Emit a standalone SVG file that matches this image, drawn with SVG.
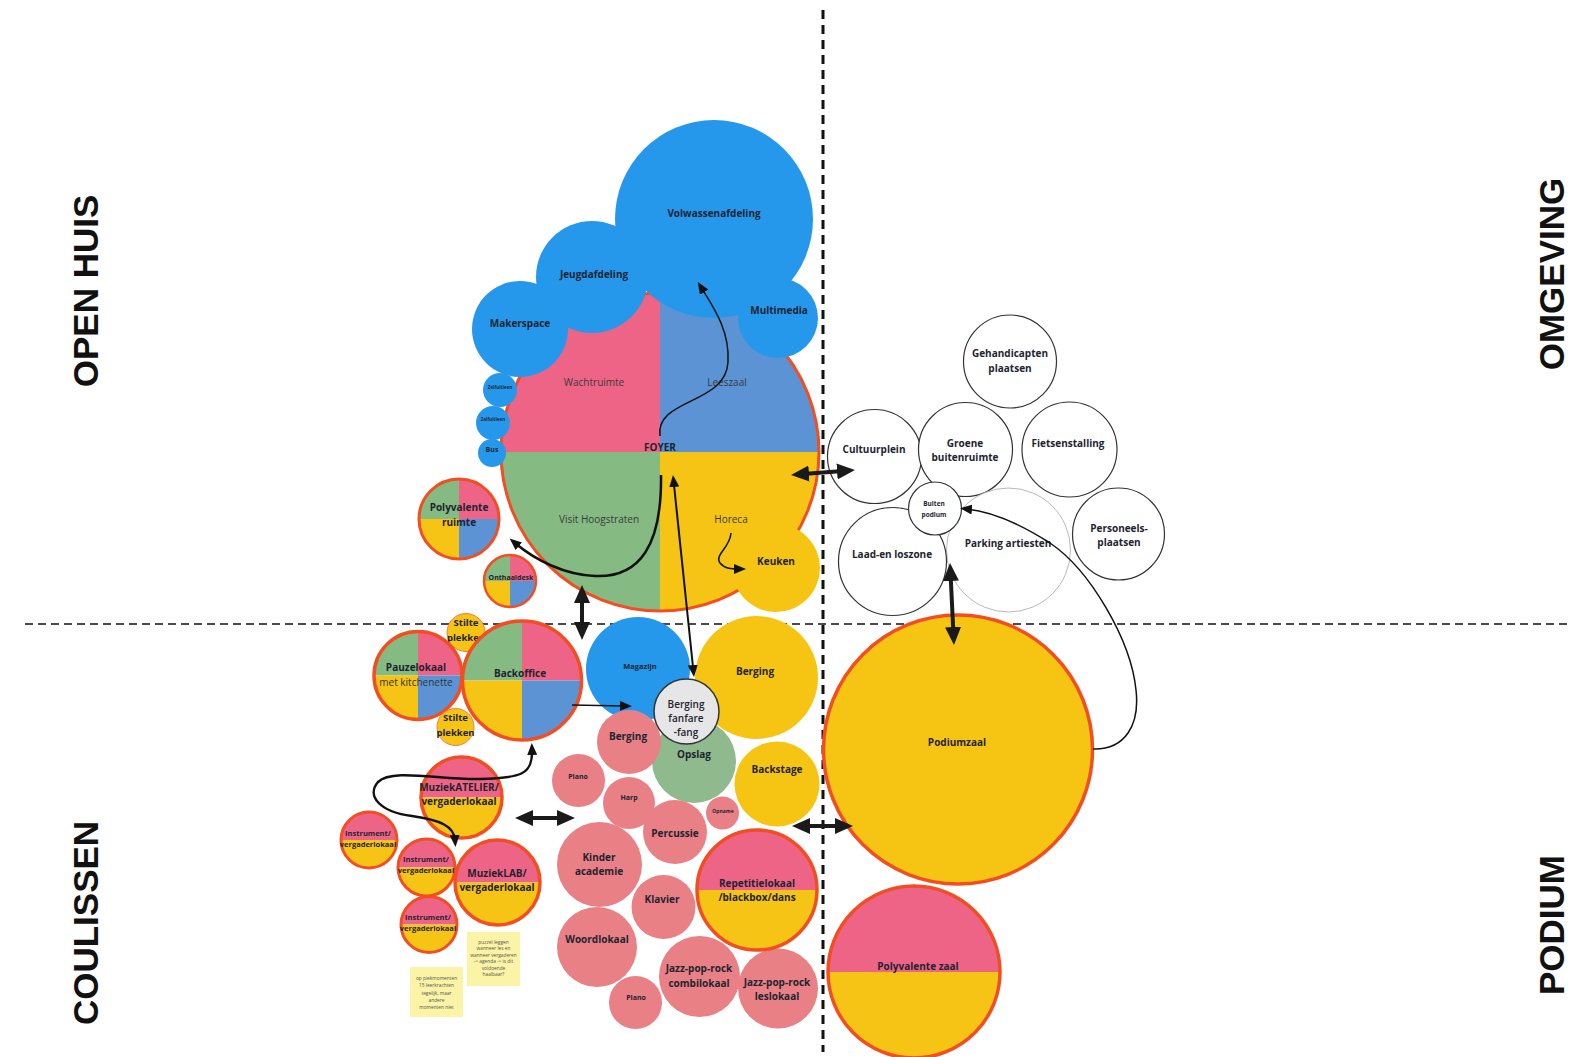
<svg xmlns="http://www.w3.org/2000/svg" width="1579" height="1057" viewBox="0 0 1579 1057">
<defs>
<style>
text{font-family:"Open Sans","Noto Sans",sans-serif;text-anchor:middle;fill:#1d2430}
.b{font-weight:700;font-size:10px}
.n{font-weight:400;font-size:10px;fill:#3a3a3a}
.s7{font-weight:700;font-size:7px}
.s75{font-weight:700;font-size:7.5px}
.side{font-family:"Liberation Sans",Arial,sans-serif;font-weight:700;font-size:35px;fill:#111}
.note{font-size:4.8px;fill:#555}
.pk{fill:#ee6487}.bl{fill:#5b93d5}.gr{fill:#85ba83}.ye{fill:#f5c415}
.ring{fill:none;stroke:#f24e22;stroke-width:3}
.blue{fill:#2598eb}
.rose{fill:#e88086}
.yel{fill:#f6c513}
.wc{fill:#fff;stroke:#333;stroke-width:1.2}
.sticky{fill:#fbf3a5}
.thin{fill:none;stroke:#111;stroke-width:1.5}
.med{fill:none;stroke:#111;stroke-width:2.5}
.bold{fill:none;stroke:#1a1a1a;stroke-width:4}
</style>
<marker id="ah" viewBox="0 0 12 10" refX="5" refY="5" markerWidth="12" markerHeight="10" markerUnits="userSpaceOnUse" orient="auto-start-reverse"><path d="M0,0 L12,5 L0,10 z" fill="#111"/></marker>
<marker id="ahb" viewBox="0 0 18 16" refX="6" refY="8" markerWidth="18" markerHeight="16" markerUnits="userSpaceOnUse" orient="auto-start-reverse"><path d="M0,0 L18,8 L0,16 z" fill="#1a1a1a"/></marker>
</defs>
<rect width="1579" height="1057" fill="#fff"/>

<g id="grid">
<line x1="823" y1="10" x2="823" y2="1052" stroke="#111" stroke-width="3" stroke-dasharray="9 6"/>
<line x1="25" y1="624" x2="1572" y2="624" stroke="#111" stroke-width="1.5" stroke-dasharray="8 5"/>
</g>

<g id="labels">
<text class="side" transform="translate(98,291) rotate(-90)">OPEN HUIS</text>
<text class="side" transform="translate(98,923) rotate(-90)">COULISSEN</text>
<text class="side" transform="translate(1564,274) rotate(-90)">OMGEVING</text>
<text class="side" transform="translate(1564,925) rotate(-90)">PODIUM</text>
</g>

<g id="foyer">
<path class="pk" d="M660,452 L501,452 A159,159 0 0 1 660,293 Z"/>
<path class="bl" d="M660,452 L660,293 A159,159 0 0 1 819,452 Z"/>
<path class="gr" d="M660,452 L660,611 A159,159 0 0 1 501,452 Z"/>
<path class="ye" d="M660,452 L819,452 A159,159 0 0 1 660,611 Z"/>
<circle class="ring" cx="660" cy="452" r="159"/>
<text class="n" x="594" y="385.5">Wachtruimte</text>
<text class="n" x="727" y="385.5">Leeszaal</text>
<text class="b" x="660" y="450.5">FOYER</text>
<text class="n" x="599" y="522.5">Visit Hoogstraten</text>
<text class="n" x="731" y="522.5">Horeca</text>
</g>
<g id="volwassenafdeling"><circle class="blue" cx="714" cy="219" r="99"/><text class="b" x="714" y="216.5">Volwassenafdeling</text></g>
<g id="jeugdafdeling"><circle class="blue" cx="592" cy="277" r="56"/><text class="b" x="594" y="277.5">Jeugdafdeling</text></g>
<g id="makerspace"><circle class="blue" cx="520" cy="329" r="48"/><text class="b" x="520" y="326.5">Makerspace</text></g>
<g id="multimedia"><circle class="blue" cx="778" cy="318" r="40"/><text class="b" x="779" y="313.5">Multimedia</text></g>
<g id="zelfuitleen1"><circle class="blue" cx="500" cy="390" r="17"/><text class="b" style="font-size:4.5px" x="500" y="388.5">Zelfuitleen</text></g>
<g id="zelfuitleen2"><circle class="blue" cx="493" cy="423" r="17"/><text class="b" style="font-size:4.5px" x="493" y="420.5">Zelfuitleen</text></g>
<g id="bus"><circle class="blue" cx="492" cy="453" r="14"/><text class="s7" x="492" y="451.5">Bus</text></g>
<g id="keuken"><circle class="yel" cx="776" cy="568" r="44"/><text class="b" x="776" y="564.5">Keuken</text></g>

<g id="polyvalente-ruimte">
<path class="gr" d="M459,519 L419,519 A40,40 0 0 1 459,479 Z"/>
<path class="pk" d="M459,519 L459,479 A40,40 0 0 1 499,519 Z"/>
<path class="bl" d="M459,519 L499,519 A40,40 0 0 1 459,559 Z"/>
<path class="ye" d="M459,519 L459,559 A40,40 0 0 1 419,519 Z"/>
<circle class="ring" cx="459" cy="519" r="40"/>
<text class="b" x="459" y="510.5">Polyvalente</text><text class="b" x="459" y="525.5">ruimte</text>
</g>
<g id="onthaaldesk">
<path class="gr" d="M510,581 L484,581 A26,26 0 0 1 510,555 Z"/>
<path class="pk" d="M510,581 L510,555 A26,26 0 0 1 536,581 Z"/>
<path class="bl" d="M510,581 L536,581 A26,26 0 0 1 510,607 Z"/>
<path class="ye" d="M510,581 L510,607 A26,26 0 0 1 484,581 Z"/>
<circle class="ring" cx="510" cy="581" r="26" style="stroke-width:2.5"/>
<text class="s7" x="511" y="579.5">Onthaaldesk</text>
</g>
<g id="stilte1"><circle class="yel" cx="466" cy="632.5" r="19" stroke="#f07a4a" stroke-width="1"/><text class="b" style="font-size:9.5px" x="466" y="626">Stilte</text><text class="b" style="font-size:9.5px" x="466" y="641">plekken</text></g>
<g id="pauzelokaal">
<path class="gr" d="M418,675.5 L374,675.5 A44,44 0 0 1 418,631.5 Z"/>
<path class="pk" d="M418,675.5 L418,631.5 A44,44 0 0 1 462,675.5 Z"/>
<path class="bl" d="M418,675.5 L462,675.5 A44,44 0 0 1 418,719.5 Z"/>
<path class="ye" d="M418,675.5 L418,719.5 A44,44 0 0 1 374,675.5 Z"/>
<circle class="ring" cx="418" cy="675.5" r="44" style="stroke-width:3.5"/>
<text class="b" x="416" y="670.5">Pauzelokaal</text><text class="n" style="fill:#333" x="416" y="685.5">met kitchenette</text>
</g>
<g id="stilte2"><circle class="yel" cx="455.5" cy="727" r="18.5" stroke="#f07a4a" stroke-width="1"/><text class="b" style="font-size:9.5px" x="455.5" y="721">Stilte</text><text class="b" style="font-size:9.5px" x="455.5" y="736">plekken</text></g>
<g id="backoffice">
<path class="gr" d="M522,680.5 L462.5,680.5 A59.5,59.5 0 0 1 522,621 Z"/>
<path class="pk" d="M522,680.5 L522,621 A59.5,59.5 0 0 1 581.5,680.5 Z"/>
<path class="bl" d="M522,680.5 L581.5,680.5 A59.5,59.5 0 0 1 522,740 Z"/>
<path class="ye" d="M522,680.5 L522,740 A59.5,59.5 0 0 1 462.5,680.5 Z"/>
<circle class="ring" cx="522" cy="680.5" r="59.5" style="stroke-width:3.5"/>
<text class="b" x="520" y="676.5">Backoffice</text>
</g>

<g id="magazijn"><circle class="blue" cx="638" cy="669" r="52"/><text class="s75" x="640" y="668.5">Magazijn</text></g>
<g id="berging-geel"><circle class="yel" cx="756.5" cy="677.5" r="61.5"/><text class="b" x="755" y="674.5">Berging</text></g>
<g id="opslag"><circle cx="694" cy="761" r="42" fill="#8fba8e"/><text class="b" x="694" y="757.5">Opslag</text></g>
<g id="berging-roze"><circle class="rose" cx="629" cy="742" r="32"/><text class="b" x="628" y="739.5">Berging</text></g>
<g id="berging-fanfare"><circle cx="686.5" cy="711.5" r="32.5" fill="#e6e6e6" stroke="#333" stroke-width="1.5"/>
<text class="b" style="font-weight:600" x="686" y="707.5">Berging</text><text class="b" style="font-weight:600" x="686" y="721.5">fanfare</text><text class="b" style="font-weight:600" x="686" y="735.5">-fang</text></g>
<g id="backstage"><circle class="yel" cx="777" cy="784" r="42.5"/><text class="b" x="777" y="772.5">Backstage</text></g>
<g id="piano1"><circle class="rose" cx="578.5" cy="780.5" r="26.5"/><text class="s7" x="578" y="778.5">Piano</text></g>
<g id="harp"><circle class="rose" cx="629" cy="803" r="26"/><text class="s7" x="629" y="799.5">Harp</text></g>
<g id="opname"><circle class="rose" cx="722.5" cy="813" r="16.5"/><text class="b" style="font-size:5px" x="723" y="813">Opname</text></g>
<g id="percussie"><circle class="rose" cx="675" cy="832" r="32"/><text class="b" x="675" y="836.5">Percussie</text></g>
<g id="kinderacademie"><circle class="rose" cx="599.5" cy="864.5" r="42.5"/><text class="b" x="599" y="860.5">Kinder</text><text class="b" x="599" y="874.5">academie</text></g>
<g id="klavier"><circle class="rose" cx="663.5" cy="907" r="32"/><text class="b" x="662" y="902.5">Klavier</text></g>
<g id="woordlokaal"><circle class="rose" cx="597" cy="947" r="40"/><text class="b" x="597" y="942.5">Woordlokaal</text></g>
<g id="piano2"><circle class="rose" cx="635.5" cy="1002.5" r="26.5"/><text class="s7" x="636" y="999.5">Piano</text></g>
<g id="jazz-combi"><circle class="rose" cx="699.5" cy="976.5" r="40.5"/><text class="b" x="699" y="971.5">Jazz-pop-rock</text><text class="b" x="699" y="986.5">combilokaal</text></g>
<g id="jazz-les"><circle class="rose" cx="778" cy="988.5" r="40"/><text class="b" x="777" y="985.5">Jazz-pop-rock</text><text class="b" x="777" y="999.5">leslokaal</text></g>
<g id="repetitielokaal">
<path class="pk" d="M697,890 A60,60 0 0 1 817,890 Z"/><path class="ye" d="M817,890 A60,60 0 0 1 697,890 Z"/>
<circle class="ring" cx="757" cy="890" r="60" style="stroke-width:3.5"/>
<text class="b" x="757" y="886.5">Repetitielokaal</text><text class="b" x="757" y="900.5">/blackbox/dans</text>
</g>

<g id="muziekatelier">
<path class="pk" d="M421,797.5 A40.5,40.5 0 0 1 502,797.5 Z"/><path class="ye" d="M502,797.5 A40.5,40.5 0 0 1 421,797.5 Z"/>
<circle class="ring" cx="461.5" cy="797.5" r="40.5" style="stroke-width:3.5"/>
<text class="b" x="459" y="790.5">MuziekATELIER/</text><text class="b" x="459" y="804.5">vergaderlokaal</text>
</g>
<g id="instrument1">
<path class="pk" d="M341,840 A28,28 0 0 1 397,840 Z"/><path class="ye" d="M397,840 A28,28 0 0 1 341,840 Z"/>
<circle class="ring" cx="369" cy="840" r="28"/>
<text class="s75" x="368" y="835.5">Instrument/</text><text class="s75" x="368" y="846.5">vergaderlokaal</text>
</g>
<g id="instrument2">
<path class="pk" d="M398,867.5 A28.5,28.5 0 0 1 455,867.5 Z"/><path class="ye" d="M455,867.5 A28.5,28.5 0 0 1 398,867.5 Z"/>
<circle class="ring" cx="426.5" cy="867.5" r="28.5"/>
<text class="s75" x="426" y="861.5">Instrument/</text><text class="s75" x="426" y="872.5">vergaderlokaal</text>
</g>
<g id="instrument3">
<path class="pk" d="M401,924.5 A28,28 0 0 1 457,924.5 Z"/><path class="ye" d="M457,924.5 A28,28 0 0 1 401,924.5 Z"/>
<circle class="ring" cx="429" cy="924.5" r="28"/>
<text class="s75" x="428" y="919.5">Instrument/</text><text class="s75" x="428" y="930.5">vergaderlokaal</text>
</g>
<g id="muzieklab">
<path class="pk" d="M455,882.5 A42.5,42.5 0 0 1 540,882.5 Z"/><path class="ye" d="M540,882.5 A42.5,42.5 0 0 1 455,882.5 Z"/>
<circle class="ring" cx="497.5" cy="882.5" r="42.5" style="stroke-width:3.5"/>
<text class="b" x="497" y="876.5">MuziekLAB/</text><text class="b" x="497" y="890.5">vergaderlokaal</text>
</g>

<g id="note-puzzel"><rect class="sticky" x="467" y="932" width="53" height="54"/>
<text class="note" x="493.5" y="943.5">puzzel leggen</text><text class="note" x="493.5" y="950">wanneer les en</text><text class="note" x="493.5" y="956.5">wanneer vergaderen</text><text class="note" x="493.5" y="963">-&gt; agenda -&gt; is dit</text><text class="note" x="493.5" y="969.5">voldoende</text><text class="note" x="493.5" y="976">haalbaar?</text></g>
<g id="note-piek"><rect class="sticky" x="410" y="967" width="53" height="50"/>
<text class="note" x="436.5" y="979.5">op piekmomenten</text><text class="note" x="436.5" y="987">15 leerkrachten</text><text class="note" x="436.5" y="994.5">tegelijk, maar</text><text class="note" x="436.5" y="1001.5">andere</text><text class="note" x="436.5" y="1008.5">momenten niet</text></g>

<g id="podiumzaal"><circle cx="958" cy="749.5" r="134.5" fill="#f6c513" stroke="#f24e22" stroke-width="3.5"/><text class="b" x="957" y="745.5">Podiumzaal</text></g>
<g id="polyvalente-zaal">
<path class="pk" d="M828,972 A86,86 0 0 1 1000,972 Z"/><path class="ye" d="M1000,972 A86,86 0 0 1 828,972 Z"/>
<circle class="ring" cx="914" cy="972" r="86" style="stroke-width:3.5"/>
<text class="b" x="918" y="969.5">Polyvalente zaal</text>
</g>

<g id="gehandicapten"><circle class="wc" cx="1010" cy="361.5" r="46.5"/><text class="b" x="1010" y="356.5">Gehandicapten</text><text class="b" x="1010" y="371.5">plaatsen</text></g>
<g id="cultuurplein"><circle class="wc" cx="874.5" cy="456.5" r="47"/><text class="b" x="874" y="452.5">Cultuurplein</text></g>
<g id="groene-buitenruimte"><circle class="wc" cx="965.5" cy="449.5" r="47"/><text class="b" x="965" y="446.5">Groene</text><text class="b" x="965" y="460.5">buitenruimte</text></g>
<g id="fietsenstalling"><circle class="wc" cx="1069.5" cy="449.5" r="47.5"/><text class="b" x="1068" y="446.5">Fietsenstalling</text></g>
<g id="parking-artiesten"><circle cx="1008.5" cy="550" r="62" fill="#fff" stroke="#b8b8b8" stroke-width="1"/><text class="b" x="1008" y="546.5">Parking artiesten</text></g>
<g id="laad-loszone"><circle class="wc" cx="892.5" cy="561.5" r="54"/><text class="b" x="892" y="557.5">Laad-en loszone</text></g>
<g id="personeelsplaatsen"><circle class="wc" cx="1118.5" cy="534" r="46"/><text class="b" x="1119" y="531.5">Personeels-</text><text class="b" x="1119" y="545.5">plaatsen</text></g>
<g id="buiten-podium"><circle class="wc" cx="935" cy="508.5" r="26.5"/><text class="b" style="font-size:6.5px" x="934" y="505.5">Buiten</text><text class="b" style="font-size:6.5px" x="934" y="516.5">podium</text></g>

<g id="connectors">
<path class="thin" d="M660,436 C655,398 726,405 728,362 C730,330 712,305 701.5,288" marker-end="url(#ah)"/>
<path class="med" d="M661,475 C662,545 640,578 595,576 C565,575 535,560 515,543" marker-end="url(#ah)"/>
<line class="bold" x1="582" y1="597" x2="582" y2="628" marker-start="url(#ahb)" marker-end="url(#ahb)"/>
<line class="thin" style="stroke-width:2" x1="673.7" y1="482" x2="693.3" y2="670" marker-start="url(#ah)" marker-end="url(#ah)"/>
<path class="thin" d="M731,533 C730,548 714,555 720,563 C725,569 732,569 739,569" marker-end="url(#ah)"/>
<line class="bold" x1="803" y1="474" x2="843" y2="471" marker-start="url(#ahb)" marker-end="url(#ahb)"/>
<line class="thin" x1="572" y1="705" x2="625" y2="706" marker-end="url(#ah)"/>
<path class="med" d="M532,750 C533,775 520,778 480,779 C440,780 392,768 378,782 C366,796 380,812 412,816 C440,820 454,826 455,840" marker-start="url(#ah)" marker-end="url(#ah)"/>
<line class="bold" x1="527" y1="818" x2="563" y2="818" marker-start="url(#ahb)" marker-end="url(#ahb)"/>
<line class="bold" x1="804" y1="826" x2="841" y2="826" marker-start="url(#ahb)" marker-end="url(#ahb)"/>
<line class="bold" x1="950.6" y1="575" x2="953.4" y2="633" marker-start="url(#ahb)" marker-end="url(#ahb)"/>
<path class="thin" d="M1093,749 C1125,750 1140,725 1136,690 C1131,640 1090,570 1050,543 C1025,527 995,512 967,509" marker-end="url(#ah)"/>
</g>
</svg>
